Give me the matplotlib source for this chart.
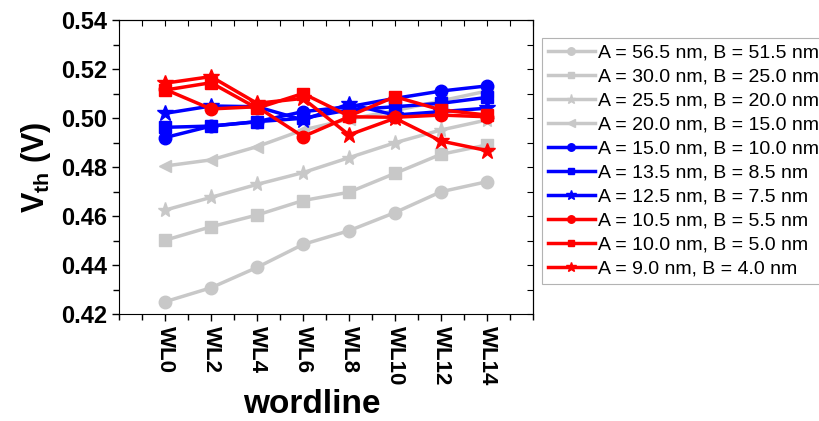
import numpy as np
import matplotlib
matplotlib.use('Agg')
import matplotlib.pyplot as plt
from matplotlib.ticker import FixedLocator, MultipleLocator

plt.rcParams['font.family'] = ['Liberation Sans', 'DejaVu Sans']
plt.rcParams['mathtext.fontset'] = 'custom'
plt.rcParams['mathtext.rm'] = 'Liberation Sans'
plt.rcParams['mathtext.bf'] = 'Liberation Sans:bold'

# wordline index
wl = [0, 2, 4, 6, 8, 10, 12, 14]
wl_labels = ['WL0', 'WL2', 'WL4', 'WL6', 'WL8', 'WL10', 'WL12', 'WL14']

labels = ['A = 56.5 nm, B = 51.5 nm', 'A = 30.0 nm, B = 25.0 nm',
          'A = 25.5 nm, B = 20.0 nm', 'A = 20.0 nm, B = 15.0 nm',
          'A = 15.0 nm, B = 10.0 nm', 'A = 13.5 nm, B = 8.5 nm',
          'A = 12.5 nm, B = 7.5 nm', 'A = 10.5 nm, B = 5.5 nm',
          'A = 10.0 nm, B = 5.0 nm', 'A = 9.0 nm, B = 4.0 nm']

vth_56 = [0.4250, 0.4307, 0.4390, 0.4484, 0.4540, 0.4614, 0.4699, 0.4740]
vth_30 = [0.4501, 0.4556, 0.4604, 0.4663, 0.4697, 0.4774, 0.4852, 0.4890]
vth_25 = [0.4624, 0.4676, 0.4729, 0.4777, 0.4838, 0.4899, 0.4951, 0.4992]
vth_20 = [0.4804, 0.4829, 0.4883, 0.4951, 0.4995, 0.5030, 0.5070, 0.5110]
vth_15 = [0.4920, 0.4967, 0.4985, 0.5026, 0.5046, 0.5080, 0.5110, 0.5131]
vth_13 = [0.4962, 0.4967, 0.4985, 0.4999, 0.5033, 0.5046, 0.5060, 0.5084]
vth_12 = [0.5019, 0.5049, 0.5046, 0.4992, 0.5057, 0.5012, 0.5026, 0.5040]
vth_10a = [0.5117, 0.5037, 0.5046, 0.4924, 0.5005, 0.5003, 0.5012, 0.5005]
vth_10 = [0.5114, 0.5144, 0.5040, 0.5100, 0.5008, 0.5087, 0.5033, 0.5012]
vth_9 = [0.5142, 0.5169, 0.5060, 0.5080, 0.4931, 0.4999, 0.4906, 0.4867]

series = [vth_56, vth_30, vth_25, vth_20, vth_15, vth_13, vth_12, vth_10a, vth_10, vth_9]
grey, blue, red = '#c8c8c8', '#0000ff', '#ff0000'
colors = [grey] * 4 + [blue] * 3 + [red] * 3
markers = ['o', 's', '*', '<', 'o', 's', '*', 'o', 's', '*']
msizes = [9, 8, 11, 9, 9, 8, 12, 9, 8, 12]

fig = plt.figure(figsize=(8.19, 4.21), dpi=100)
ax = fig.add_axes([119/819, 1-314/421, (533-119)/819, (314-20)/421])

for y, c, m, ms, lab in zip(series, colors, markers, msizes, labels):
    ax.plot(wl, y, color=c, marker=m, markersize=ms, lw=2.5, label=lab)

ax.set_xlim(-2, 16)
ax.set_ylim(0.42, 0.54)
ax.xaxis.set_major_locator(FixedLocator(wl))
ax.set_xticklabels(wl_labels, rotation=-90, fontsize=16, fontweight='bold')
ax.xaxis.set_minor_locator(FixedLocator(np.arange(-2, 17, 1)))
ax.yaxis.set_major_locator(MultipleLocator(0.02))
ax.yaxis.set_minor_locator(MultipleLocator(0.01))
ax.set_yticklabels([f'{v:.2f}' for v in ax.get_yticks()], fontsize=17, fontweight='bold')
ax.tick_params(which='major', direction='out', length=5, width=1)
ax.tick_params(which='minor', direction='out', length=4, width=1)

top = ax.secondary_xaxis('top')
top.xaxis.set_major_locator(FixedLocator(np.arange(-2, 17, 1)))
top.tick_params(direction='in', length=4, labeltop=False)
right = ax.secondary_yaxis('right')
right.yaxis.set_major_locator(MultipleLocator(0.01))
right.tick_params(direction='in', length=4, labelright=False)

ax.set_xlabel('wordline', fontsize=24, fontweight='bold')
ax.xaxis.set_label_coords((312-119)/414, (314-389)/294)
ax.set_ylabel(r'$\mathbf{V}_{\mathbf{th}}$ (V)', fontsize=22, fontweight='bold', labelpad=6)

leg = fig.legend(*ax.get_legend_handles_labels(), loc='upper left',
                 bbox_to_anchor=(542/819, 1-38/421), fontsize=14,
                 frameon=True, fancybox=False, edgecolor='#a0a0a0',
                 handlelength=2.4, markerscale=0.6, labelspacing=0.33,
                 borderpad=0.3, handletextpad=0.2, borderaxespad=0)
leg.get_frame().set_linewidth(0.8)

fig.savefig('out.png', dpi=100)
